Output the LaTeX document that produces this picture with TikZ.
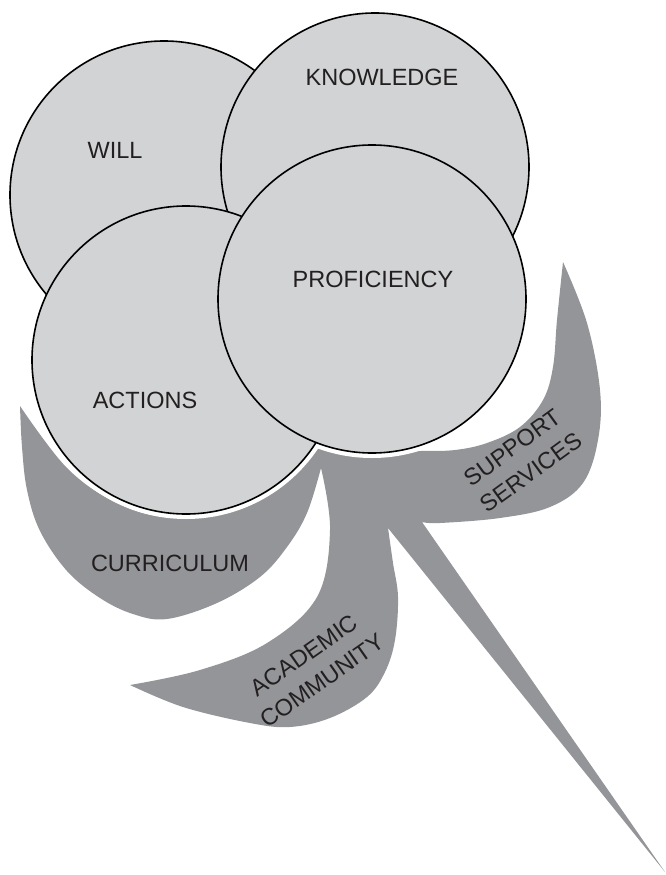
\documentclass[tikz,border=0pt]{standalone}
\usepackage{fontspec}
\setmainfont{Liberation Sans}
\definecolor{ballgray}{HTML}{D1D3D4}
\definecolor{leafgray}{HTML}{939598}
\definecolor{textcol}{HTML}{231F20}
\begin{document}
\begin{tikzpicture}[x=1pt,y=-1pt,
  ball/.style={circle, draw=black, line width=1.6pt, fill=ballgray, minimum size=308pt, inner sep=0pt},
  halo/.style={circle, fill=white, minimum size=318pt, inner sep=0pt},
  leaf/.style={fill=leafgray},
  lbl/.style={font=\fontsize{23.5}{31}\selectfont, text=textcol, inner sep=0pt, align=center}]
\useasboundingbox (0,0) rectangle (666,875);
% gray leaves
\fill[leaf]
  plot[smooth, tension=0.6] coordinates {(20,406) (67,468) (117,503) (170,517) (233,505) (283,478) (315,440) (340,447) (372,451) (420,451) (455,450) (487,443) (520,427) (543,400) (553,367) (557,320) (563,262)}
  -- plot[smooth, tension=0.6] coordinates {(563,262) (587,323) (600,390) (598,440) (583,483) (550,507) (500,518) (440,523) (422,522)}
  -- (665,872) -- (388,528)
  -- plot[smooth, tension=0.6] coordinates {(388,528) (393,563) (398,597) (395,640) (385,672) (367,697) (330,718) (290,727) (250,723) (183,707) (130,685)}
  -- plot[smooth, tension=0.6] coordinates {(130,685) (200,670) (267,643) (317,597) (330,530) (321,468)}
  -- plot[smooth, tension=0.6] coordinates {(321,468) (307,513) (287,547) (260,577) (217,603) (167,619) (133,614) (100,598) (67,571) (40,531) (27,490) (22,447) (20,406)}
  -- cycle;
% white halos
\node[halo] (willh) at (164,195) {};
\node[halo] (knowh) at (375,167) {};
\node[halo] (acth) at (186,360) {};
\node[halo] (profh) at (372,299) {};
% circles
\node[ball] (will) at (164,195) {};
\node[ball] (know) at (375,167) {};
\node[ball] (act) at (186,360) {};
\node[ball] (prof) at (372,299) {};
% labels
\node[lbl] (twill) at (115,150) {WILL};
\node[lbl] (tknow) at (382,77) {KNOWLEDGE};
\node[lbl] (tprof) at (373,279) {PROFICIENCY};
\node[lbl] (tact) at (145,400) {ACTIONS};
\node[lbl] (tcur) at (170,563) {CURRICULUM};
\node[lbl, rotate=36] (tsup) at (522,460) {SUPPORT\\SERVICES};
\node[lbl, rotate=35] (tacad) at (313,668) {ACADEMIC\\COMMUNITY};
\end{tikzpicture}
\end{document}
